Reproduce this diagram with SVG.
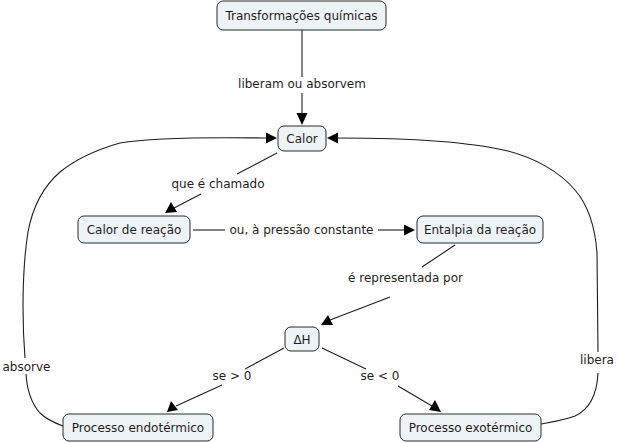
<svg xmlns="http://www.w3.org/2000/svg" width="618" height="443" viewBox="0 0 618 443">
<style>
.node rect{fill:#eef3f6;stroke:#2b2b2b;stroke-width:1}
text{font-family:"DejaVu Sans","Verdana",sans-serif;font-size:12px;fill:#1e1e1e;text-anchor:middle}
.c path,.c line{fill:none;stroke:#1e1e1e;stroke-width:1.1}
.c polygon{fill:#000;stroke:none}
</style>
<rect width="618" height="443" fill="#ffffff"/>
<g class="c" id="connectors">
<line x1="302" y1="30" x2="302" y2="77"/>
<text x="302" y="88">liberam ou absorvem</text>
<line x1="302" y1="93" x2="302" y2="114"/>
<polygon points="302,125 296.5,113 307.5,113"/>

<line x1="277" y1="153" x2="237" y2="174"/>
<text x="218" y="188">que é chamado</text>
<line x1="201" y1="194" x2="174" y2="208"/>
<polygon points="165,213 171,202 177,212"/>

<line x1="193" y1="230" x2="225" y2="230"/>
<text x="301.5" y="234">ou, à pressão constante</text>
<line x1="378" y1="230" x2="405" y2="230"/>
<polygon points="415,230 404,224.5 404,235.5"/>

<line x1="455" y1="245" x2="422" y2="267"/>
<text x="405.5" y="282">é representada por</text>
<line x1="390" y1="297" x2="330" y2="320"/>
<polygon points="321,325 328,315 333,325"/>

<line x1="284" y1="348" x2="245" y2="369"/>
<text x="232" y="380">se &gt; 0</text>
<line x1="222" y1="385" x2="176" y2="406"/>
<polygon points="167,412 171,401 178,410"/>

<line x1="322" y1="348" x2="366" y2="369"/>
<text x="380" y="380">se &lt; 0</text>
<line x1="398" y1="386" x2="432" y2="406"/>
<polygon points="441,412 429,410 435,400"/>

<path d="M63,426 C52,422 45,418 40,413 C31,403 27,390 26,374"/>
<text x="26.5" y="371">absorve</text>
<path d="M25,358 C22,320 22,270 28,232 C33,205 45,185 60,172 C75,160 95,150 120,143 C150,138 200,137 266,138"/>
<polygon points="277,138 266,132.5 266,143.5"/>

<path d="M541,424 C552,422 565,420 575,416 C590,409 597,395 598,373"/>
<text x="597" y="364">libera</text>
<path d="M598,352 L597,253 C595,225 588,205 575,190 C560,172 535,158 508,151 C470,142 420,138 338,138"/>
<polygon points="327,138 338,132.5 338,143.5"/>
</g>
<g class="node" id="n-transformacoes"><rect x="217" y="1" width="169" height="29" rx="6"/><text x="301.5" y="20">Transformações químicas</text></g>
<g class="node" id="n-calor"><rect x="278" y="126" width="48" height="25" rx="6"/><text x="302" y="143">Calor</text></g>
<g class="node" id="n-calor-reacao"><rect x="78" y="216" width="112" height="27" rx="6"/><text x="134" y="234">Calor de reação</text></g>
<g class="node" id="n-entalpia"><rect x="417" y="216" width="126" height="27" rx="6"/><text x="480" y="234">Entalpia da reação</text></g>
<g class="node" id="n-deltah"><rect x="285" y="327" width="34" height="24" rx="6"/><text x="302" y="343.5">ΔH</text></g>
<g class="node" id="n-endo"><rect x="63" y="414" width="150" height="27" rx="6"/><text x="138" y="432">Processo endotérmico</text></g>
<g class="node" id="n-exo"><rect x="400" y="414" width="141" height="27" rx="6"/><text x="470.5" y="432">Processo exotérmico</text></g>
</svg>
